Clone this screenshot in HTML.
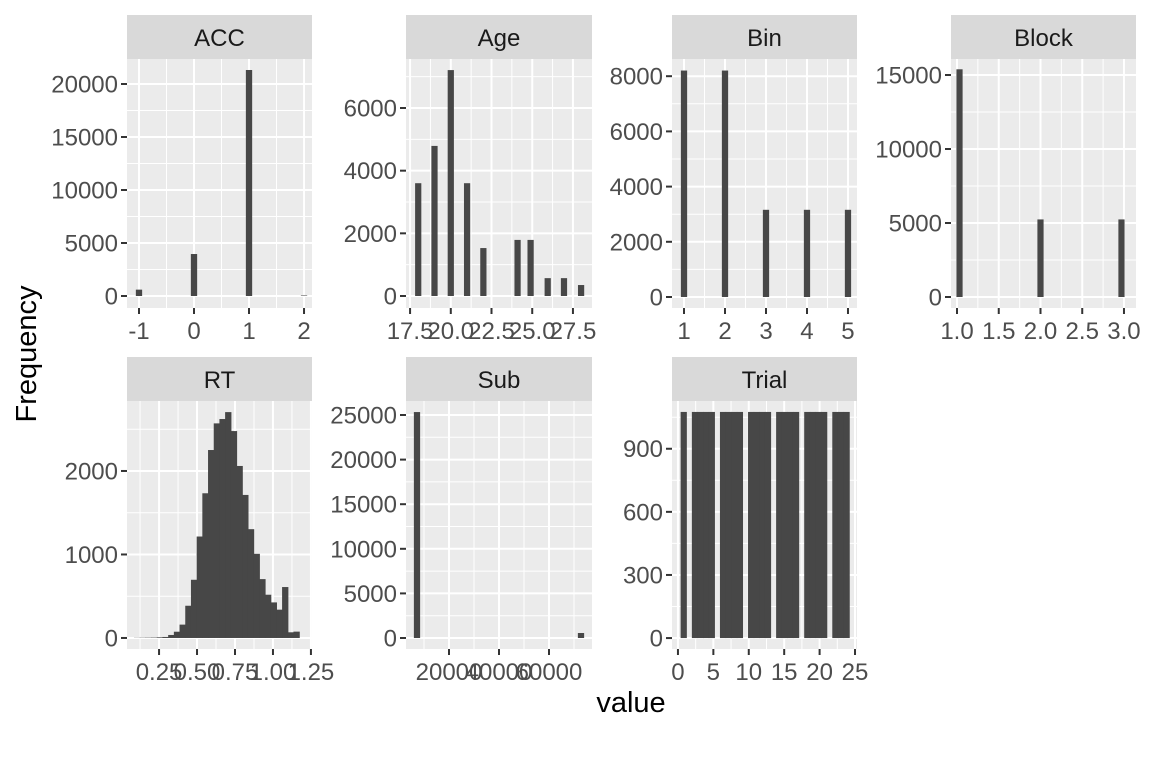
<!DOCTYPE html>
<html><head><meta charset="utf-8"><style>
html,body{margin:0;padding:0;background:#fff;}
svg{display:block;font-family:"Liberation Sans",sans-serif;}
</style></head><body>
<svg id="chart" width="1152" height="768" viewBox="0 0 1152 768" xmlns="http://www.w3.org/2000/svg">
<text x="36" y="354" transform="rotate(-90 36 354)" text-anchor="middle" font-size="29" fill="#000">Frequency</text>
<text x="631" y="712" text-anchor="middle" font-size="29" fill="#000">value</text>
</svg>
<script>
// ---- data arrays ----
const accCenters = [-1, 0, 1, 2];
const accCounts = [600, 3960, 21320, 50];
const ageCenters = [18, 19, 20, 21, 22, 24.1, 24.9, 25.95, 26.95, 28];
const ageCounts = [3600, 4790, 7210, 3600, 1530, 1790, 1790, 570, 570, 350];
const binCenters = [1, 2, 3, 4, 5];
const binCounts = [8205, 8205, 3159, 3159, 3159];
const blockCenters = [1.03, 2, 2.97];
const blockCounts = [15386, 5242, 5242];
const rtStart = 0.087;
const rtBinWidth = 0.0375;
const rtCounts = [2, 3, 4, 5, 8, 12, 36, 75, 160, 386, 697, 1215, 1733, 2251, 2570, 2622, 2705, 2478, 2060, 1713, 1303, 1008, 705, 518, 426, 339, 610, 68, 76];
const subCenters = [7200, 72800];
const subCounts = [25330, 560];
const trialStart = 0.42;
const trialBinWidth = 0.7931;
const trialCounts = [1075,0,1075,1075,1075,1075,0,1075,1075,1075,1075,0,1075,1075,1075,1075,0,1075,1075,1075,1075,0,1075,1075,1075,1075,0,1075,1075,1075];
const accXTicks = [-1, 0, 1, 2];
const accXLabels = ["-1", "0", "1", "2"];
const accYTicks = [0, 5000, 10000, 15000, 20000];
const ageXTicks = [17.5, 20, 22.5, 25, 27.5];
const ageXLabels = ["17.5", "20.0", "22.5", "25.0", "27.5"];
const ageYTicks = [0, 2000, 4000, 6000];
const binXTicks = [1, 2, 3, 4, 5];
const binXLabels = ["1", "2", "3", "4", "5"];
const binYTicks = [0, 2000, 4000, 6000, 8000];
const blockXTicks = [1, 1.5, 2, 2.5, 3];
const blockXLabels = ["1.0", "1.5", "2.0", "2.5", "3.0"];
const blockYTicks = [0, 5000, 10000, 15000];
const rtXTicks = [0.25, 0.5, 0.75, 1, 1.25];
const rtXLabels = ["0.25", "0.50", "0.75", "1.00", "1.25"];
const rtYTicks = [0, 1000, 2000];
const subXTicks = [20000, 40000, 60000];
const subXLabels = ["20000", "40000", "60000"];
const subYTicks = [0, 5000, 10000, 15000, 20000, 25000];
const trialXTicks = [0, 5, 10, 15, 20, 25];
const trialXLabels = ["0", "5", "10", "15", "20", "25"];
const trialYTicks = [0, 300, 600, 900];

const NS = "http://www.w3.org/2000/svg";
const svg = document.getElementById("chart");
function mk(tag, attrs, parent) {
  const e = document.createElementNS(NS, tag);
  for (const k in attrs) e.setAttribute(k, attrs[k]);
  (parent || svg).appendChild(e);
  return e;
}
function minors(ticks, lo, hi) {
  const out = [];
  const step = ticks[1] - ticks[0];
  for (let v = ticks[0] - step / 2; v <= ticks[ticks.length - 1] + step; v += step) {
    if (v > lo && v < hi) out.push(v);
  }
  return out;
}
function panel(cfg) {
  const g = mk("g", {});
  
  
  const [x0, x1] = cfg.px, [y0, y1] = cfg.py;
  const sx = v => x0 + (v - cfg.xd[0]) / (cfg.xd[1] - cfg.xd[0]) * (x1 - x0);
  const sy = v => y1 - (v - cfg.yd[0]) / (cfg.yd[1] - cfg.yd[0]) * (y1 - y0);
  const st = mk("rect", {x: x0, y: y0 - 44, width: x1 - x0, height: 44, fill: "#d9d9d9"}, g);
  
  
  const stt = mk("text", {x: (x0 + x1) / 2, y: y0 - 13, "text-anchor": "middle", "font-size": 24, fill: "#1a1a1a"}, g);
  stt.textContent = cfg.title;
  
  
  const bg = mk("rect", {x: x0, y: y0, width: x1 - x0, height: y1 - y0, fill: "#ebebeb"}, g);
  
  
  minors(cfg.xt, cfg.xd[0], cfg.xd[1]).forEach(v => { const l = mk("line", {x1: sx(v), x2: sx(v), y1: y0, y2: y1, stroke: "#fff", "stroke-width": 1}, g);   });
  minors(cfg.yt, cfg.yd[0], cfg.yd[1]).forEach(v => { const l = mk("line", {x1: x0, x2: x1, y1: sy(v), y2: sy(v), stroke: "#fff", "stroke-width": 1}, g);   });
  cfg.xt.forEach(v => { const l = mk("line", {x1: sx(v), x2: sx(v), y1: y0, y2: y1, stroke: "#fff", "stroke-width": 2}, g);   });
  cfg.yt.forEach(v => { const l = mk("line", {x1: x0, x2: x1, y1: sy(v), y2: sy(v), stroke: "#fff", "stroke-width": 2}, g);   });
  cfg.bars.forEach(b => {
    if (b.c <= 0) return;
    const xa = sx(b.l), xb = sx(b.r);
    const r = mk("rect", {x: xa - 0.3, y: sy(b.c), width: xb - xa + 0.6, height: sy(0) - sy(b.c), fill: "#474747"}, g);
    
    
  });
  cfg.xt.forEach((v, i) => {
    const t = mk("line", {x1: sx(v), x2: sx(v), y1: y1, y2: y1 + 6, stroke: "#333", "stroke-width": 2}, g);
    
    
    const tx = mk("text", {x: sx(v), y: y1 + 31, "text-anchor": "middle", "font-size": 24, fill: "#4d4d4d"}, g);
    tx.textContent = cfg.xl[i];
    
    
  });
  cfg.yt.forEach(v => {
    const t = mk("line", {x1: x0 - 6, x2: x0, y1: sy(v), y2: sy(v), stroke: "#333", "stroke-width": 2}, g);
    
    
    const tx = mk("text", {x: x0 - 9, y: sy(v) + 8.5, "text-anchor": "end", "font-size": 24, fill: "#4d4d4d"}, g);
    tx.textContent = String(v);
    
    
  });
}
function centerBars(centers, counts) {
  const w = (centers[centers.length - 1] - centers[0]) / 29;
  return centers.map((c, i) => ({l: c - w / 2, r: c + w / 2, c: counts[i]}));
}
function startBars(start, bw, counts) {
  return counts.map((c, i) => ({l: start + i * bw, r: start + (i + 1) * bw, c: c}));
}
const R1 = [59, 308], R2 = [401, 649];
const C = [[127, 312], [406, 592], [672, 857], [951, 1136]];
panel({name: "acc", title: "ACC", px: C[0], py: R1, xd: [-1.218, 2.145], yd: [-1132, 22358], xt: accXTicks, xl: accXLabels, yt: accYTicks, bars: centerBars(accCenters, accCounts)});
panel({name: "age", title: "Age", px: C[1], py: R1, xd: [17.25, 28.67], yd: [-383, 7564], xt: ageXTicks, xl: ageXLabels, yt: ageYTicks, bars: centerBars(ageCenters, ageCounts).map(b => ({l: b.l, r: b.l + 0.345, c: b.c}))});
panel({name: "bin", title: "Bin", px: C[2], py: R1, xd: [0.707, 5.22], yd: [-399, 8623], xt: binXTicks, xl: binXLabels, yt: binYTicks, bars: centerBars(binCenters, binCounts)});
panel({name: "block", title: "Block", px: C[3], py: R1, xd: [0.928, 3.144], yd: [-743, 16081], xt: blockXTicks, xl: blockXLabels, yt: blockYTicks, bars: centerBars(blockCenters, blockCounts)});
panel({name: "rt", title: "RT", px: C[0], py: R2, xd: [0.039, 1.257], yd: [-132, 2838], xt: rtXTicks, xl: rtXLabels, yt: rtYTicks, bars: startBars(rtStart, rtBinWidth, rtCounts)});
panel({name: "sub", title: "Sub", px: C[1], py: R2, xd: [2800, 77200], yd: [-1233, 26570], xt: subXTicks, xl: subXLabels, yt: subYTicks, bars: centerBars(subCenters, subCounts)});
panel({name: "trial", title: "Trial", px: C[2], py: R2, xd: [-0.84, 25.28], yd: [-52, 1127], xt: trialXTicks, xl: trialXLabels, yt: trialYTicks, bars: startBars(trialStart, trialBinWidth, trialCounts)});
</script>
</body></html>
